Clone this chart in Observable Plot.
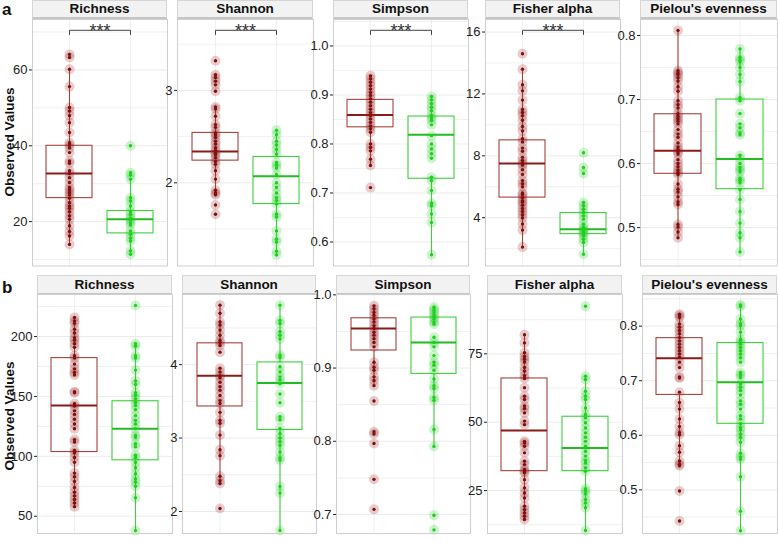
<!DOCTYPE html>
<html><head><meta charset="utf-8">
<script src="https://cdn.jsdelivr.net/npm/d3@7"></script>
<script src="https://cdn.jsdelivr.net/npm/@observablehq/plot@0.6"></script>
<style>
body{margin:0;background:#fff;}
#fig{position:relative;width:778px;height:543px;overflow:hidden;font-family:"Liberation Sans",Arial,sans-serif;background:#fff;}
.strip{position:absolute;box-sizing:border-box;background:#f2f2f2;border:1px solid #d6d6d6;border-bottom:2px solid #c6c6c6;font-weight:bold;font-size:13.5px;color:#111;text-align:center;}
.panel{position:absolute;}
.ylab{position:absolute;font-weight:bold;font-size:13.5px;color:#111;transform:translate(-50%,-50%) rotate(-90deg);white-space:nowrap;}
.tag{position:absolute;font-weight:bold;font-size:17px;line-height:17px;color:#111;}
</style></head><body><div id="fig"></div>
<script>
const groups = ["Group 1", "Group 2"];
const metrics = ["Richness", "Shannon", "Simpson", "Fisher alpha", "Pielou's evenness"];

// ---- Row a ----
const aRich1 = [64.1,63.3,60.2,55.6,50.1,49.2,47.9,46.1,43.5,40.8,40.2,39.5,38.2,36.0,35.4,33.4,32.7,31.6,30.3,29.0,28.4,27.7,27.0,26.2,25.0,24.1,23.5,22.6,21.5,20.6,18.9,17.4,16.2,14.0];
const aRich2 = [40.0,32.9,32.3,31.2,26.3,25.5,24.1,22.6,21.9,21.0,20.4,19.7,19.1,17.5,16.7,15.6,14.9,12.3,11.4];
const aRichBox = [[26.2,32.7,40.0],[16.9,20.6,22.8]];
const aShan1 = [3.32,3.17,3.14,3.10,3.06,2.99,2.82,2.80,2.72,2.63,2.60,2.54,2.52,2.49,2.45,2.42,2.38,2.35,2.32,2.30,2.27,2.23,2.20,2.13,2.04,1.92,1.89,1.87,1.76,1.66];
const aShan2 = [2.57,2.52,2.45,2.41,2.36,2.31,2.22,2.19,2.16,2.09,2.00,1.95,1.89,1.84,1.81,1.77,1.66,1.63,1.48,1.39,1.36,1.26,1.22];
const aShanBox = [[2.24,2.34,2.54],[1.77,2.07,2.28]];
const aSimp1 = [0.939,0.933,0.926,0.919,0.912,0.905,0.899,0.892,0.885,0.878,0.871,0.864,0.858,0.851,0.844,0.837,0.831,0.824,0.800,0.793,0.786,0.769,0.756,0.711];
const aSimp2 = [0.897,0.890,0.882,0.875,0.868,0.858,0.853,0.848,0.839,0.817,0.800,0.790,0.780,0.771,0.732,0.725,0.705,0.679,0.674,0.657,0.640,0.574];
const aSimpBox = [[0.834,0.859,0.890],[0.729,0.819,0.856]];
const aFish1 = [14.6,13.6,12.6,12.2,11.6,11.0,10.8,10.6,10.3,9.9,9.6,9.1,8.9,8.5,8.3,7.9,7.7,7.5,7.4,7.1,6.8,6.4,6.2,6.0,5.6,5.5,5.3,5.1,5.0,4.8,4.6,4.4,4.2,4.0,3.6,3.2,2.1];
const aFish2 = [8.2,7.25,6.86,4.98,4.77,4.55,4.34,4.12,3.91,3.58,3.37,3.26,3.15,3.04,2.94,2.83,2.61,2.40,1.64];
const aFishBox = [[5.3,7.5,9.0],[2.94,3.26,4.3]];
const aPiel1 = [0.808,0.745,0.742,0.739,0.734,0.729,0.720,0.713,0.698,0.692,0.687,0.678,0.674,0.670,0.666,0.662,0.653,0.646,0.641,0.632,0.626,0.622,0.618,0.615,0.606,0.600,0.595,0.590,0.586,0.583,0.568,0.560,0.556,0.548,0.540,0.536,0.505,0.501,0.493,0.484];
const aPiel2 = [0.779,0.766,0.762,0.759,0.750,0.739,0.728,0.703,0.698,0.678,0.662,0.656,0.648,0.645,0.613,0.608,0.600,0.594,0.590,0.587,0.577,0.574,0.570,0.559,0.544,0.525,0.507,0.492,0.484,0.462];
const aPielBox = [[0.584,0.620,0.677],[0.560,0.607,0.700]];
const aSignif = ["***","***","***","***",""];

// ---- Row b ----
const bRich1 = [216,213,211,206,203,199,197,194,191,184,182,177,173,170,168,154,153,144,142,138,135,131,127,123,114,112,105,103,99,95,86,83,79,74,70,67,64,61,58];
const bRich2 = [226,194,192,184,182,172,163,160,153,151,148,145,142.5,139,134,130,127,123,117.5,116,110.5,108,101,99,95,90.5,85.5,81,78.6,75,65.5,38];
const bRichBox = [[103.6,142.5,182],[96.7,123,146]];
const bShan1 = [4.81,4.70,4.58,4.54,4.47,4.40,4.33,4.30,4.26,4.17,3.95,3.90,3.85,3.82,3.76,3.70,3.65,3.58,3.51,3.47,3.35,3.24,3.20,3.04,2.84,2.76,2.48,2.42,2.38,2.04];
const bShan2 = [4.81,4.60,4.56,4.45,4.40,4.35,4.13,4.10,3.97,3.90,3.83,3.79,3.74,3.60,3.48,3.29,3.25,3.13,3.06,3.00,2.95,2.90,2.81,2.73,2.70,2.34,2.25,1.74];
const bShanBox = [[3.43,3.85,4.29],[3.11,3.75,4.03]];
const bSimp1 = [0.985,0.981,0.976,0.972,0.967,0.963,0.958,0.954,0.949,0.945,0.940,0.935,0.929,0.908,0.901,0.897,0.888,0.883,0.876,0.855,0.813,0.810,0.797,0.748,0.707];
const bSimp2 = [0.983,0.980,0.977,0.973,0.970,0.967,0.963,0.960,0.942,0.935,0.929,0.917,0.908,0.904,0.897,0.885,0.876,0.872,0.860,0.856,0.816,0.793,0.699,0.679];
const bSimpBox = [[0.924,0.954,0.968],[0.892,0.935,0.969]];
const bFish1 = [82,79,75.4,74,73,72,70,68.7,67,66,62.6,59.5,58.3,55.9,55,53.4,50.4,49.1,43,42.4,41.2,38.8,35.7,34.5,32.7,32.1,31.5,29,26,24.1,22.3,19.3,18,16.8,15.6,14.4];
const bFish2 = [92.4,66.8,65.6,61.3,59.5,58.3,55.2,52.8,51.6,49.8,47.9,46.1,44.5,43,41.2,39.4,37.6,36,35.1,33.3,32.1,25.7,24.8,23.8,21.7,20.5,18.7,10.4];
const bFishBox = [[32.1,47,66],[32.1,40.6,52]];
const bPiel1 = [0.822,0.819,0.816,0.804,0.798,0.792,0.786,0.779,0.773,0.767,0.761,0.755,0.749,0.743,0.734,0.724,0.707,0.705,0.679,0.660,0.648,0.630,0.616,0.605,0.601,0.581,0.569,0.553,0.547,0.544,0.498,0.443];
const bPiel2 = [0.839,0.836,0.813,0.804,0.801,0.789,0.776,0.772,0.767,0.761,0.755,0.749,0.742,0.734,0.715,0.711,0.706,0.694,0.688,0.682,0.674,0.663,0.657,0.648,0.636,0.630,0.621,0.614,0.610,0.602,0.596,0.587,0.567,0.560,0.556,0.524,0.461,0.425];
const bPielBox = [[0.674,0.741,0.778],[0.621,0.697,0.769]];
const bSignif = ["","","","",""];

// ---- axis ticks (tick labels) ----
const aTicks = [[20,40,60],[2,3],[0.6,0.7,0.8,0.9,1.0],[4,8,12,16],[0.5,0.6,0.7,0.8]];
const aMinor = [[10,30,50,70],[1.5,2.5,3.5],[0.65,0.75,0.85,0.95,1.05],[2,6,10,14],[0.45,0.55,0.65,0.75]];
const bTicks = [[50,100,150,200],[2,3,4],[0.7,0.8,0.9,1.0],[25,50,75],[0.5,0.6,0.7,0.8]];
const bMinor = [[75,125,175,225],[2.5,3.5,4.5],[0.75,0.85,0.95],[12.5,37.5,62.5,87.5],[0.45,0.55,0.65,0.75,0.85]];
const aFmt = ["d","d",".1f","d",".1f"];
const bFmt = ["d","d",".1f","d",".1f"];
const aDomains = [[8.3,73.3],[1.10,3.767],[0.551,1.054],[0.88,16.81],[0.440,0.825]];
const bDomains = [[35.6,235.1],[1.70,4.955],[0.674,1.0005],[9.3,96.7],[0.420,0.858]];

// ---- styling / layout ----
const boxStroke = ["#a4433e", "#3fcf3f"];
const medStroke = ["#8b1a1a", "#22bb22"];
const haloFill = ["#9b1c1c", "#22cc22"];
const coreFill = ["#7d0f0f", "#1fcf1f"];
const gridCol = "#e6e6e6";
const aLeft = [32,177,333,485,640], aRight = [167,313,468,620,777];
const bLeft = [37,182,336,487,642], bRight = [172,316,470,622,777];

const fig = document.getElementById("fig");

function addPanel(title, g1, g2, box, domain, ticks, minor, fmt, sig, left, right, stripTop, stripH, top, bottom) {
  const strip = document.createElement("div");
  strip.className = "strip";
  Object.assign(strip.style, {left: left + "px", top: stripTop + "px", width: (right - left) + "px", height: stripH + "px", lineHeight: (stripH - 3) + "px"});
  strip.textContent = title;
  fig.appendChild(strip);

  const mL = 34;
  const pw = right - left, ph = bottom - top;
  const [d0, d1] = domain;
  const vals = [g1, g2];
  const boxes = box.map((b, i) => ({g: groups[i], q1: b[0], med: b[1], q3: b[2]}));
  const whisk = boxes.map((b, i) => {
    const iqr = b.q3 - b.q1;
    const inside = vals[i].filter(v => v >= b.q1 - 1.5 * iqr && v <= b.q3 + 1.5 * iqr);
    return {g: b.g, y1: d3.min(inside), y2: d3.max(inside)};
  });
  const marks = [
    Plot.ruleY(minor, {stroke: gridCol, strokeWidth: 0.6}),
    Plot.ruleY(ticks, {stroke: gridCol, strokeWidth: 0.8}),
    Plot.ruleX(groups, {x: d => d, stroke: gridCol, strokeWidth: 0.6})
  ];
  [0, 1].forEach(i => {
    marks.push(Plot.ruleX([whisk[i]], {x: "g", y1: "y1", y2: "y2", stroke: boxStroke[i], strokeWidth: 1.1}));
    marks.push(Plot.barY([boxes[i]], {x: "g", y1: "q1", y2: "q3", fill: "white", stroke: boxStroke[i], strokeWidth: 1.1}));
    marks.push(Plot.tickY([boxes[i]], {x: "g", y: "med", stroke: medStroke[i], strokeWidth: 2}));
  });
  [0, 1].forEach(i => {
    const pts = vals[i].map(v => ({g: groups[i], v}));
    marks.push(Plot.dot(pts, {x: "g", y: "v", r: 5, fill: haloFill[i], fillOpacity: 0.22, stroke: "none"}));
    marks.push(Plot.dot(pts, {x: "g", y: "v", r: 1.7, fill: coreFill[i], stroke: "none"}));
  });
  if (sig) {
    const yB = d1 - (d1 - d0) * 10.8 / ph;
    const yT = d1 - (d1 - d0) * 15 / ph;
    marks.push(Plot.line([{g: groups[0], y: yT}, {g: groups[0], y: yB}, {g: groups[1], y: yB}, {g: groups[1], y: yT}],
      {x: "g", y: "y", stroke: "#444", strokeWidth: 1}));
    marks.push(Plot.text([sig], {frameAnchor: "top", lineAnchor: "bottom", dy: 17.5, fontSize: 18, fill: "#333"}));
  }
  marks.push(Plot.frame({stroke: "#cfcfcf", strokeWidth: 1}));

  const svg = Plot.plot({
    width: mL + pw,
    height: ph,
    marginLeft: mL, marginRight: 0, marginTop: 0, marginBottom: 0,
    style: {fontSize: "13px", fontFamily: "'Liberation Sans', Arial, sans-serif", color: "#222", overflow: "visible", background: "none"},
    x: {domain: groups, type: "band", paddingInner: 0.25, paddingOuter: 0.225, axis: null},
    y: {domain: domain, ticks: ticks, tickFormat: d3.format(fmt), tickSize: 3, tickPadding: 2, label: null},
    marks
  });
  const wrap = document.createElement("div");
  wrap.className = "panel";
  Object.assign(wrap.style, {left: (left - mL) + "px", top: top + "px"});
  wrap.appendChild(svg);
  fig.appendChild(wrap);
}

const aData = [[aRich1, aRich2, aRichBox],[aShan1, aShan2, aShanBox],[aSimp1, aSimp2, aSimpBox],[aFish1, aFish2, aFishBox],[aPiel1, aPiel2, aPielBox]];
const bData = [[bRich1, bRich2, bRichBox],[bShan1, bShan2, bShanBox],[bSimp1, bSimp2, bSimpBox],[bFish1, bFish2, bFishBox],[bPiel1, bPiel2, bPielBox]];

metrics.forEach((m, k) => {
  addPanel(m, aData[k][0], aData[k][1], aData[k][2], aDomains[k], aTicks[k], aMinor[k], aFmt[k], aSignif[k], aLeft[k], aRight[k], 0, 19, 18.5, 265);
  addPanel(m, bData[k][0], bData[k][1], bData[k][2], bDomains[k], bTicks[k], bMinor[k], bFmt[k], bSignif[k], bLeft[k], bRight[k], 275, 20, 294, 533);
});

function addText(cls, txt, x, y) {
  const el = document.createElement("div");
  el.className = cls; el.textContent = txt;
  el.style.left = x + "px"; el.style.top = y + "px";
  fig.appendChild(el);
}
addText("ylab", "Observed Values", 9, 142);
addText("ylab", "Observed Values", 9, 416);
addText("tag", "a", 2, 1);
addText("tag", "b", 2, 279);
</script></body></html>
